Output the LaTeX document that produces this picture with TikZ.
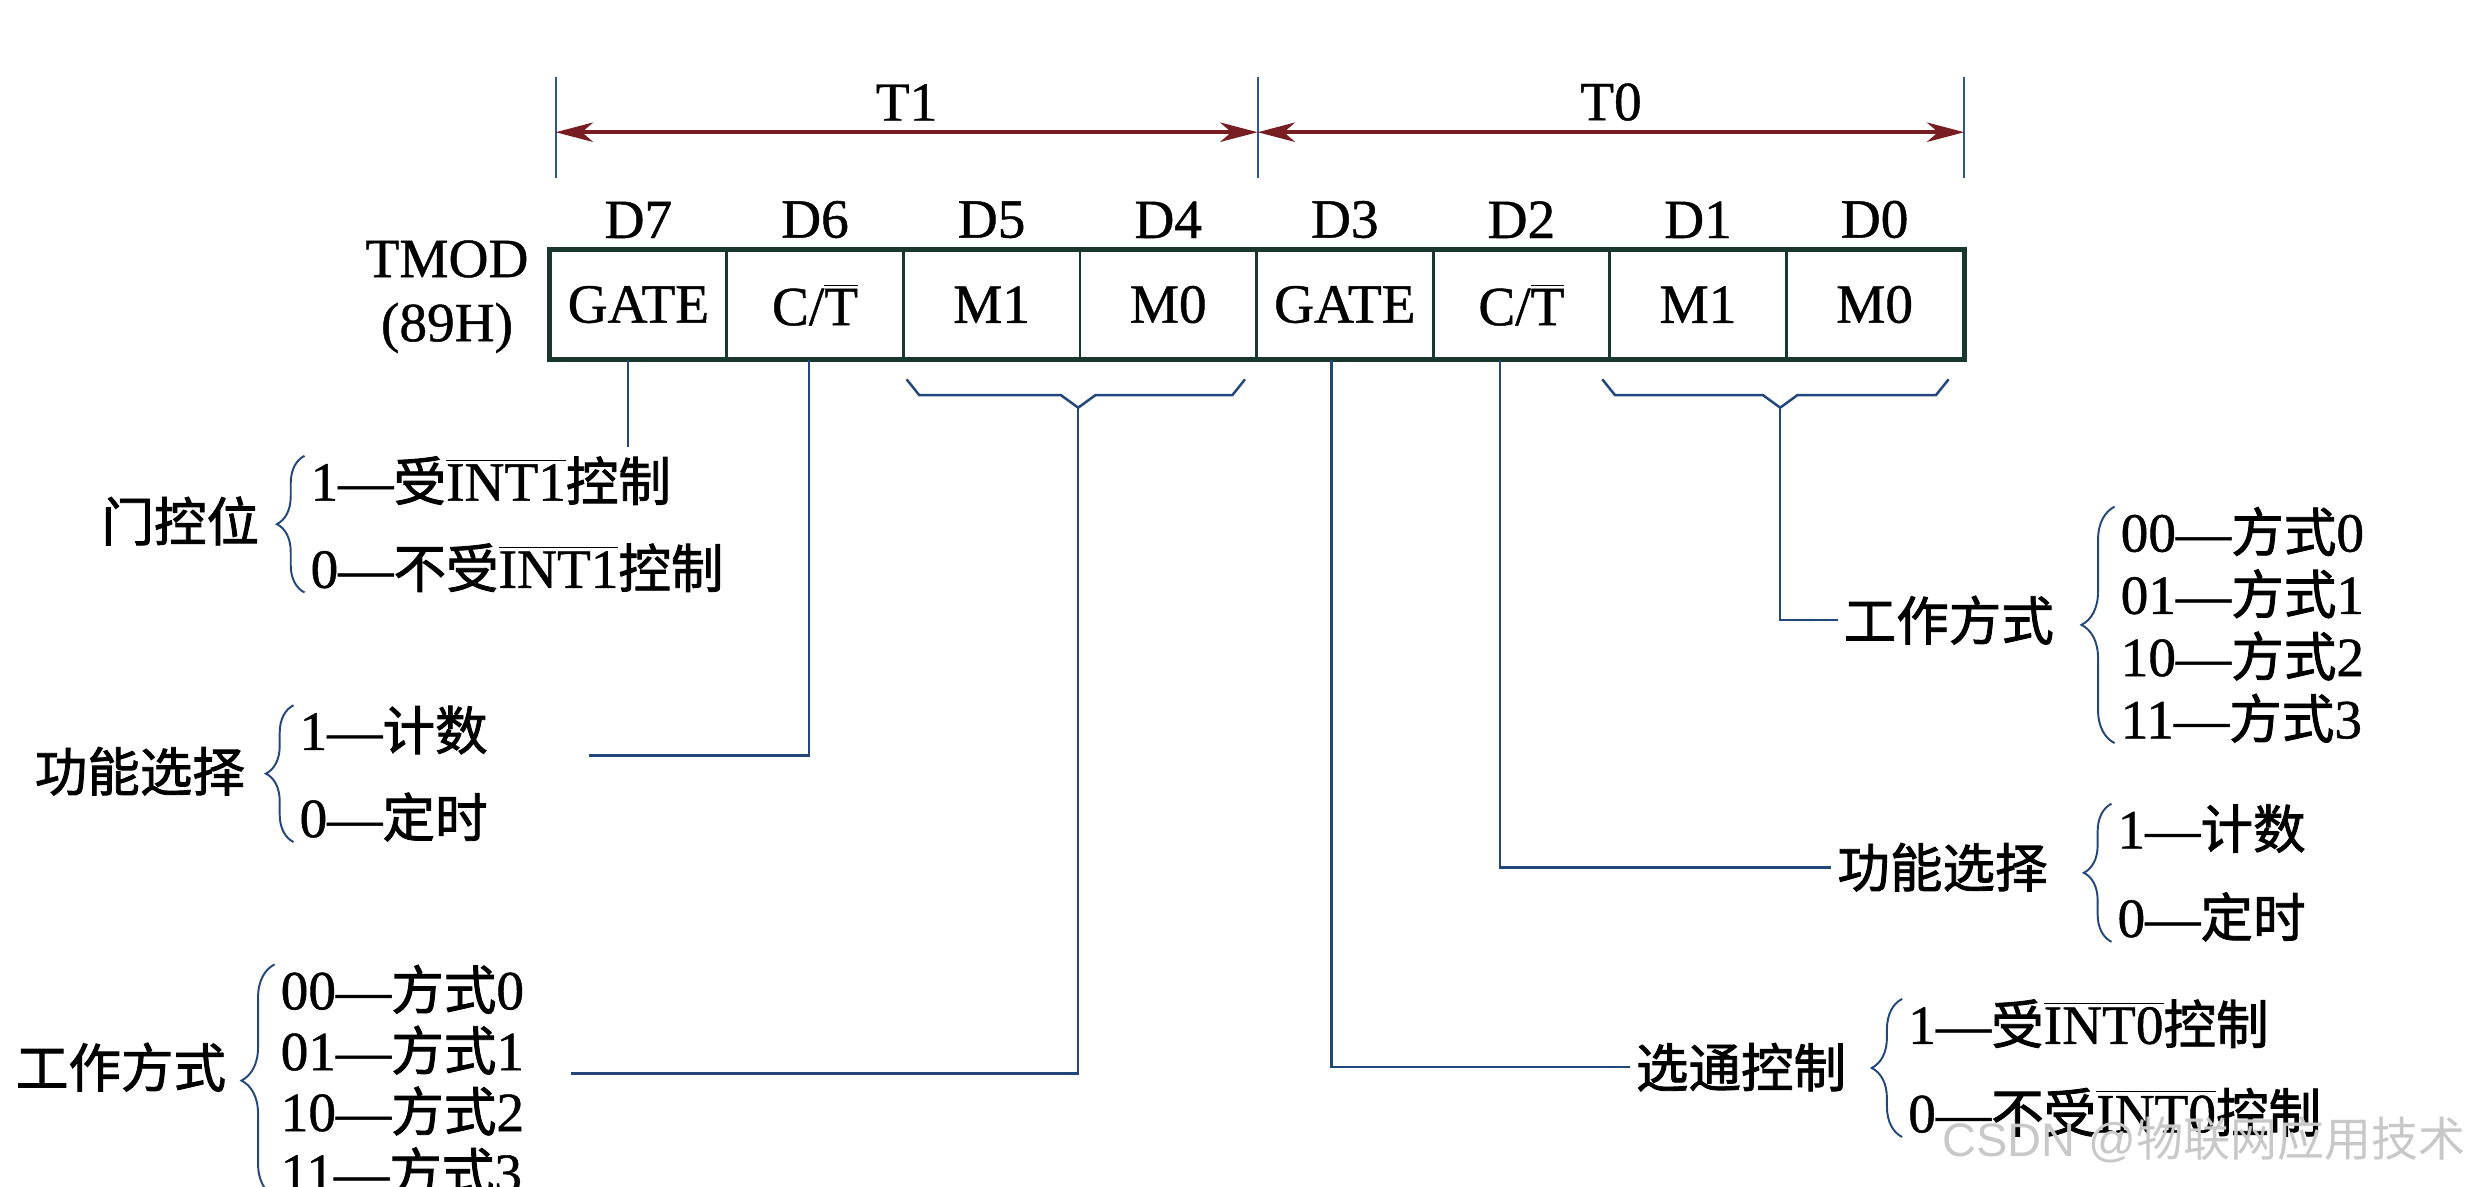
\documentclass[tikz,border=0pt]{standalone}
\usepackage{fontspec}
\setmainfont{Liberation Serif}[FakeBold=0.8]
\setsansfont{Liberation Sans}
\newfontfamily\cjk{Noto Sans CJK SC}[Scale=0.95, FakeBold=1.6]
\usetikzlibrary{arrows.meta,decorations.pathreplacing}
\definecolor{tickblue}{RGB}{45,85,145}
\definecolor{linkblue}{RGB}{35,70,125}
\definecolor{spanred}{RGB}{120,30,35}
\definecolor{cellline}{RGB}{25,55,45}
\definecolor{markgray}{RGB}{200,200,200}
\newcommand{\zh}[1]{{\cjk #1}}
\newcommand{\ovl}[1]{$\overline{\hbox{#1}}$}
\newcommand{\barT}{\ovl{T}}

\begin{document}
\begin{tikzpicture}[x=0.02cm, y=-0.02cm,
  every node/.style={font=\fontsize{20}{24}\selectfont},
  endtick/.style={tickblue, line width=0.8pt},
  span/.style={spanred, line width=1.5pt,
    arrows={Stealth[length=13.5pt,width=7pt,inset=4pt]-Stealth[length=13.5pt,width=7pt,inset=4pt]}},
  bitcell/.style={draw=cellline, line width=1pt, minimum width=2.244cm, minimum height=1.38cm, inner sep=0pt},
  bitnum/.style={inner sep=0pt, anchor=south},
  link/.style={linkblue, line width=0.9pt},
  brc/.style={linkblue, line width=0.7pt, decorate, decoration={brace, amplitude=#1}},
  brc/.default=10pt,
  lbl/.style={inner sep=2pt},
  items/.style={inner sep=0pt, anchor=west, align=left, font=\fontsize{20}{#1}\selectfont},
  items/.default=22pt]
\useasboundingbox (0,0) rectangle (1568,754);
\clip (0,0) rectangle (1568,754);

% T1 / T0 spans
\coordinate (a1) at (353,84);
\coordinate (a2) at (799,84);
\coordinate (a3) at (1248,84);
\foreach \p in {a1,a2,a3}
  \draw[endtick] (\p) ++(0,-35) -- ++(0,64);
\draw[span] (a1) -- (a2) node[midway, above=3.4pt, inner sep=0pt, text=black] (t1) {T1};
\draw[span] (a2) -- (a3) node[midway, above=3.4pt, inner sep=0pt, text=black] (t0) {T0};

% register
\foreach \txt [count=\i from 0] in {GATE,C/\barT,M1,M0,GATE,C/\barT,M1,M0}
{
  \pgfmathtruncatemacro{\bit}{7-\i}
  \node[bitcell] (c\bit) at ({405.6+112.2*\i},193.5) {\txt};
  \node[bitnum] (d\bit) at ([yshift=3.7pt]c\bit.north) {D\bit};
}
\draw[cellline, line width=1.6pt] (c7.north west) rectangle (c0.south east);
\node[lbl, align=center, font=\fontsize{20}{23.2}\selectfont] (tmod) at (284,188.5) {TMOD\\(89H)};

% braces under M1 M0
\draw[link] (576,241) -- (584,251) -- (674,251) -- (685,259) coordinate (m1tip) -- (696,251) -- (783,251) -- (791,241);
\draw[link] (1018,241) -- (1026,251) -- (1120,251) -- (1131,259) coordinate (m0tip) -- (1142,251) -- (1230,251) -- (1238,241);

% T1 side
\node[lbl, anchor=east] (gc1) at (168.5,331) {\zh{门控位}};
\node[items=31.5pt] (gc1i) at (197,333) {1—\zh{受}\ovl{INT1}\zh{控制}\\0—\zh{不受}\ovl{INT1}\zh{控制}};
\draw[brc] ([xshift=-2pt]gc1i.south west) -- ([xshift=-2pt]gc1i.north west);

\node[lbl, anchor=east] (fs1) at (159.5,490) {\zh{功能选择}};
\node[items=31.5pt] (fs1i) at (190,491.5) {1—\zh{计数}\\0—\zh{定时}};
\draw[brc] ([xshift=-2pt]fs1i.south west) -- ([xshift=-2pt]fs1i.north west);

\node[lbl, anchor=east] (wm1) at (147.5,678) {\zh{工作方式}};
\node[items] (wm1i) at (178,686.5) {00—\zh{方式}0\\01—\zh{方式}1\\10—\zh{方式}2\\11—\zh{方式}3};
\draw[brc=12pt] ([xshift=-2pt]wm1i.south west) -- ([xshift=-2pt]wm1i.north west);

\coordinate (g1end) at (399,284);
\coordinate (f1end) at (374,480);
\coordinate (w1end) at (363,682);
\draw[link] (c7.south -| g1end) -- (g1end);
\draw[link] ([xshift=-0.076cm]c6.south) |- (f1end);
\draw[link] (m1tip) |- (w1end);

% T0 side
\node[lbl, anchor=west] (xt0) at (1035.5,678) {\zh{选通控制}};
\node[items=32pt] (xt0i) at (1212,678.5) {1—\zh{受}\ovl{INT0}\zh{控制}\\0—\zh{不受}\ovl{INT0}\zh{控制}};
\draw[brc=11pt] ([xshift=-2pt]xt0i.south west) -- ([xshift=-2pt]xt0i.north west);

\node[lbl, anchor=west] (fs0) at (1163.5,551) {\zh{功能选择}};
\node[items=32pt] (fs0i) at (1345,554.5) {1—\zh{计数}\\0—\zh{定时}};
\draw[brc] ([xshift=-2pt]fs0i.south west) -- ([xshift=-2pt]fs0i.north west);

\node[lbl, anchor=west] (wm0) at (1167.5,394) {\zh{工作方式}};
\node[items=22.5pt] (wm0i) at (1347,397) {00—\zh{方式}0\\01—\zh{方式}1\\10—\zh{方式}2\\11—\zh{方式}3};
\draw[brc=12pt] ([xshift=-2pt]wm0i.south west) -- ([xshift=-2pt]wm0i.north west);

\draw[link] ([xshift=-0.17cm]c3.south) |- (xt0.west);
\draw[link] ([xshift=-0.27cm]c2.south) |- (fs0.west);
\draw[link] (m0tip) |- (wm0.west);

\node[font=\fontsize{17}{17}\selectfont\sffamily, text=markgray, inner sep=0pt] (mark) at (1400,724) {CSDN @{\newfontfamily\cjkmark{Noto Sans CJK SC}\cjkmark 物联网应用技术}};
\end{tikzpicture}
\end{document}
